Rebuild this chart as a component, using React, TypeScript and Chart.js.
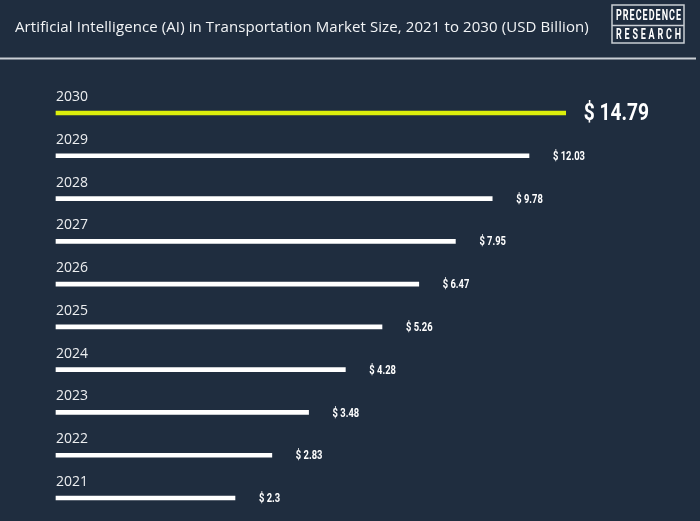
import { useEffect, useRef } from "react";
import { Chart, registerables } from "chart.js";

Chart.register(...registerables);

const years = ["2021", "2022", "2023", "2024", "2025", "2026", "2027", "2028", "2029", "2030"];
const marketSize = [2.3, 2.83, 3.48, 4.28, 5.26, 6.47, 7.95, 9.78, 12.03, 14.79];
const valueLabels = ["$ 2.3", "$ 2.83", "$ 3.48", "$ 4.28", "$ 5.26", "$ 6.47", "$ 7.95", "$ 9.78", "$ 12.03", "$ 14.79"];
const titleText = "Artificial Intelligence (AI) in Transportation Market Size, 2021 to 2030 (USD Billion)";
const logoLines = ["PRECEDENCE", "RESEARCH"];

const BG = "#1f2d3f";
const HIGHLIGHT = "#dcef0c";
const COND = "Roboto, sans-serif";

function condensedText(ctx: CanvasRenderingContext2D, text: string, x: number, y: number, sx: number) {
  ctx.save();
  ctx.translate(x, y);
  ctx.scale(sx, 1);
  ctx.fillText(text, 0, 0);
  ctx.restore();
}

function spacedText(ctx: CanvasRenderingContext2D, text: string, x0: number, x1: number, y: number, sx: number) {
  const chars = text.split("");
  const widths = chars.map((c) => ctx.measureText(c).width * sx);
  const total = widths.reduce((a, b) => a + b, 0);
  const gap = chars.length > 1 ? (x1 - x0 - total) / (chars.length - 1) : 0;
  let x = x0;
  ctx.textAlign = "left";
  chars.forEach((c, i) => {
    condensedText(ctx, c, x, y, sx);
    x += widths[i] + gap;
  });
}

const decorPlugin = {
  id: "decor",
  beforeDraw(chart: any) {
    const ctx = chart.ctx as CanvasRenderingContext2D;
    const w = chart.width;
    const h = chart.height;
    ctx.save();
    ctx.fillStyle = BG;
    ctx.fillRect(0, 0, w, h);
    // title
    ctx.fillStyle = "#f2f4f6";
    ctx.font = '500 15px "Open Sans", sans-serif';
    (ctx as any).letterSpacing = "0.1px";
    ctx.textBaseline = "middle";
    ctx.textAlign = "left";
    ctx.fillText(titleText, 15, 28);
    (ctx as any).letterSpacing = "0px";
    // separator
    ctx.strokeStyle = "#c9ced4";
    ctx.lineWidth = 2;
    ctx.beginPath();
    ctx.moveTo(0, 58.5);
    ctx.lineTo(696, 58.5);
    ctx.stroke();
    // logo
    ctx.strokeStyle = "#c9ced4";
    ctx.lineWidth = 1.5;
    ctx.strokeRect(612, 5, 72, 38);
    ctx.beginPath();
    ctx.moveTo(612, 25.5);
    ctx.lineTo(684, 25.5);
    ctx.stroke();
    ctx.fillStyle = "#ffffff";
    ctx.font = `bold 15px ${COND}`;
    ctx.textBaseline = "middle";
    spacedText(ctx, logoLines[0], 616, 681, 16, 0.6);
    spacedText(ctx, logoLines[1], 616, 681, 35, 0.6);
    ctx.restore();
  },
  afterDatasetsDraw(chart: any) {
    const ctx = chart.ctx as CanvasRenderingContext2D;
    const meta = chart.getDatasetMeta(0);
    const area = chart.chartArea;
    ctx.save();
    meta.data.forEach((bar: any, i: number) => {
      const isLast = i === years.length - 1;
      // year label
      ctx.fillStyle = "#eceef0";
      ctx.font = '14px "Open Sans", sans-serif';
      ctx.textAlign = "left";
      ctx.textBaseline = "middle";
      ctx.fillText(years[i], area.left, bar.y - 16);
      // value label
      ctx.fillStyle = "#ffffff";
      if (isLast) {
        ctx.font = `bold 24px ${COND}`;
        condensedText(ctx, valueLabels[i], bar.x + 18, bar.y + 1, 0.8);
      } else {
        ctx.font = `bold 12.5px ${COND}`;
        condensedText(ctx, valueLabels[i], bar.x + 24, bar.y + 1, 0.75);
      }
    });
    ctx.restore();
  },
};

export default function App() {
  const ref = useRef<HTMLCanvasElement | null>(null);
  useEffect(() => {
    document.body.style.margin = "0";
    const canvas = ref.current!;
    const chart = new Chart(canvas, {
      type: "bar",
      data: {
        labels: years,
        datasets: [
          {
            data: marketSize,
            backgroundColor: years.map((_, i) => (i === years.length - 1 ? HIGHLIGHT : "#ffffff")),
            barThickness: 4,
            borderWidth: 0,
            clip: false,
          },
        ],
      },
      options: {
        indexAxis: "y",
        responsive: false,
        animation: false,
        layout: { padding: { left: 56, right: 20, top: 113, bottom: 23 } },
        plugins: { legend: { display: false }, tooltip: { enabled: false }, title: { display: false } },
        scales: {
          x: { type: "logarithmic", min: 0.84, max: 28.14, display: false },
          y: { type: "category", reverse: true, offset: false, display: false },
        },
      },
      plugins: [decorPlugin],
    });
    return () => chart.destroy();
  }, []);
  return (
    <div style={{ position: "absolute", left: 0, top: 0, width: 700, height: 521 }}>
      <canvas ref={ref} width={700} height={521} style={{ display: "block" }} />
    </div>
  );
}
